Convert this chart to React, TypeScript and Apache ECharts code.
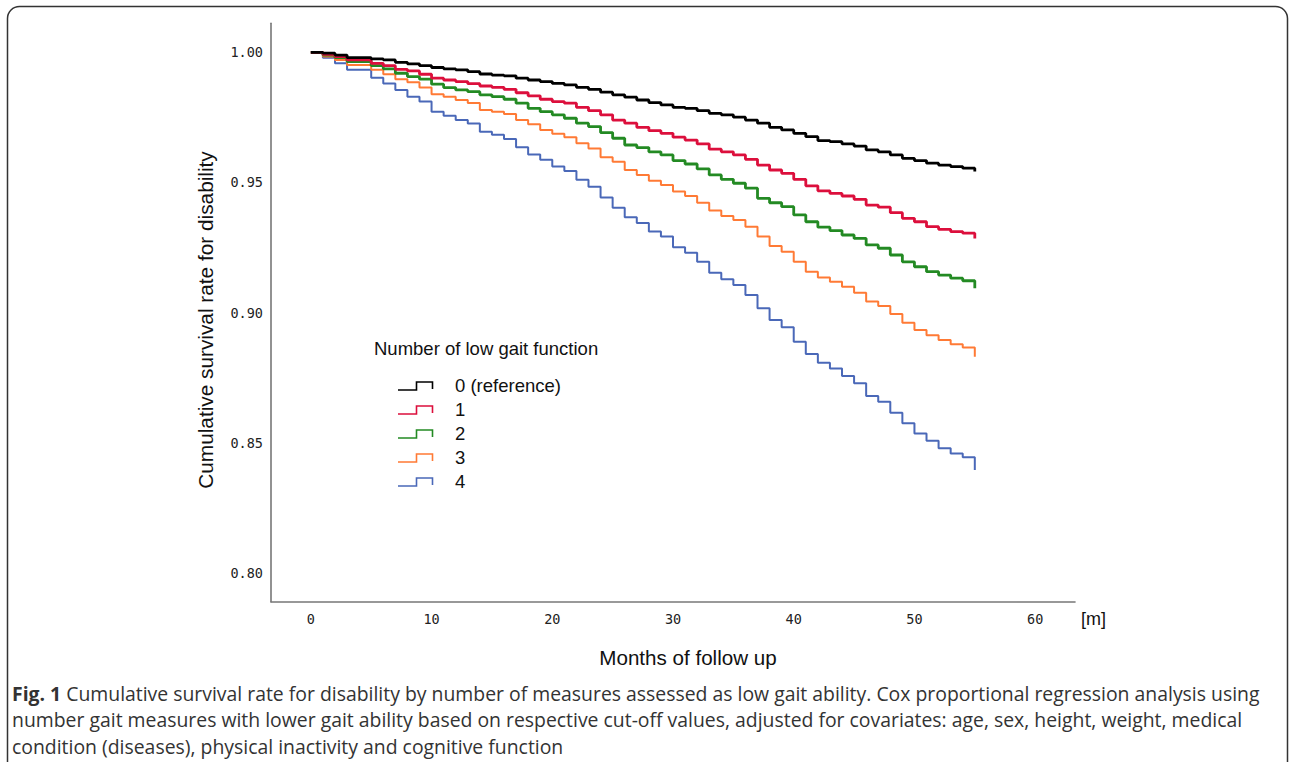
import React, { useEffect, useRef } from "react";
import * as echarts from "echarts";

const months = [0,1,2,3,4,5,6,7,8,9,10,11,12,13,14,15,16,17,18,19,20,21,22,23,24,25,26,27,28,29,30,31,32,33,34,35,36,37,38,39,40,41,42,43,44,45,46,47,48,49,50,51,52,53,54,55];

const group0 = [1.0000,0.9997,0.9990,0.9980,0.9980,0.9975,0.9971,0.9962,0.9956,0.9949,0.9942,0.9937,0.9933,0.9926,0.9917,0.9913,0.9910,0.9901,0.9894,0.9888,0.9881,0.9875,0.9866,0.9858,0.9847,0.9837,0.9828,0.9817,0.9807,0.9798,0.9789,0.9785,0.9776,0.9766,0.9760,0.9751,0.9740,0.9728,0.9712,0.9702,0.9689,0.9676,0.9661,0.9657,0.9648,0.9640,0.9625,0.9618,0.9606,0.9593,0.9584,0.9574,0.9567,0.9561,0.9555,0.9542];
const group1 = [1.0000,0.9993,0.9984,0.9971,0.9971,0.9958,0.9949,0.9935,0.9929,0.9916,0.9901,0.9894,0.9888,0.9880,0.9871,0.9866,0.9858,0.9845,0.9833,0.9820,0.9811,0.9805,0.9789,0.9776,0.9760,0.9740,0.9728,0.9712,0.9699,0.9689,0.9674,0.9663,0.9648,0.9628,0.9618,0.9606,0.9589,0.9567,0.9548,0.9535,0.9512,0.9487,0.9468,0.9458,0.9448,0.9435,0.9413,0.9405,0.9384,0.9362,0.9349,0.9330,0.9320,0.9311,0.9305,0.9285];
const group2 = [1.0000,0.9990,0.9980,0.9965,0.9965,0.9949,0.9937,0.9920,0.9907,0.9897,0.9878,0.9865,0.9856,0.9849,0.9837,0.9830,0.9820,0.9805,0.9785,0.9772,0.9760,0.9747,0.9728,0.9715,0.9692,0.9670,0.9644,0.9634,0.9618,0.9606,0.9584,0.9571,0.9552,0.9529,0.9512,0.9497,0.9478,0.9439,0.9422,0.9407,0.9375,0.9349,0.9328,0.9315,0.9298,0.9285,0.9260,0.9247,0.9221,0.9195,0.9176,0.9157,0.9144,0.9132,0.9122,0.9093];
const group3 = [1.0000,0.9984,0.9971,0.9952,0.9952,0.9933,0.9916,0.9897,0.9885,0.9865,0.9839,0.9830,0.9817,0.9806,0.9779,0.9772,0.9763,0.9740,0.9724,0.9702,0.9687,0.9674,0.9651,0.9631,0.9597,0.9580,0.9548,0.9529,0.9507,0.9490,0.9465,0.9448,0.9422,0.9392,0.9371,0.9356,0.9330,0.9292,0.9256,0.9234,0.9195,0.9157,0.9135,0.9118,0.9099,0.9076,0.9042,0.9025,0.8994,0.8961,0.8933,0.8913,0.8894,0.8878,0.8865,0.8830];
const group4 = [1.0000,0.9980,0.9958,0.9933,0.9933,0.9903,0.9881,0.9856,0.9830,0.9811,0.9772,0.9757,0.9740,0.9727,0.9695,0.9683,0.9667,0.9635,0.9608,0.9587,0.9561,0.9544,0.9510,0.9484,0.9442,0.9403,0.9366,0.9344,0.9311,0.9292,0.9251,0.9230,0.9195,0.9153,0.9128,0.9106,0.9067,0.9016,0.8971,0.8943,0.8888,0.8840,0.8807,0.8785,0.8756,0.8728,0.8679,0.8657,0.8615,0.8574,0.8535,0.8507,0.8478,0.8458,0.8443,0.8394];

const seriesNames = ["0 (reference)", "1", "2", "3", "4"];
const seriesValues = [group0, group1, group2, group3, group4];
const seriesColors = ["#000000", "#dc0f3c", "#238a23", "#ff7a35", "#4a68b8"];
const seriesWidths = [2.8, 2.8, 2.8, 2, 2];

const xTicks = [0, 10, 20, 30, 40, 50, 60];
const yTicks = [0.8, 0.85, 0.9, 0.95, 1.0];

const legendTitle = "Number of low gait function";
const yTitle = "Cumulative survival rate for disability";
const xTitle = "Months of follow up";
const xUnit = "[m]";
const captionBold = "Fig. 1";
const captionLines = [
  " Cumulative survival rate for disability by number of measures assessed as low gait ability. Cox proportional regression analysis using",
  "number gait measures with lower gait ability based on respective cut-off values, adjusted for covariates: age, sex, height, weight, medical",
  "condition (diseases), physical inactivity and cognitive function",
];

export default function App() {
  const ref = useRef<HTMLDivElement>(null);
  useEffect(() => {
    if (!ref.current) return;
    const chart = echarts.init(ref.current, null, { renderer: "svg" });
    const tickFont = "DejaVu Sans Mono";
    const capFont = "19.4px 'Open Sans'";
    const legendRows = seriesNames.map((name, i) => {
      const y = 385 + i * 24;
      return [
        {
          type: "polyline",
          shape: { points: [[398, y + 5], [416.5, y + 5], [416.5, y - 3], [432.5, y - 3], [432.5, y + 4]] },
          style: { stroke: seriesColors[i], lineWidth: 1.6, fill: "none" },
        },
        {
          type: "text",
          x: 455,
          y,
          style: { text: name, font: "18.5px 'Liberation Sans'", fill: "#111", align: "left", verticalAlign: "middle" },
        },
      ];
    }).flat();

    const option: any = {
      animation: false,
      backgroundColor: "#ffffff",
      grid: { left: 271, right: 215, top: 23.3, bottom: 160.3, containLabel: false },
      xAxis: {
        type: "value",
        min: -3.3,
        max: 63.3,
        axisLine: { show: true, onZero: false, lineStyle: { color: "#777", width: 1.6 } },
        axisTick: { show: false },
        splitLine: { show: false },
        axisLabel: {
          customValues: xTicks,
          margin: 10,
          color: "#222",
          fontFamily: tickFont,
          fontSize: 13.5,
          formatter: (v: number) => String(v),
        },
      },
      yAxis: {
        type: "value",
        min: 0.7888,
        max: 1.0112,
        axisLine: { show: true, onZero: false, lineStyle: { color: "#777", width: 1.6 } },
        axisTick: { show: false },
        splitLine: { show: false },
        axisLabel: {
          customValues: yTicks,
          margin: 8,
          color: "#222",
          fontFamily: tickFont,
          fontSize: 13.5,
          padding: [5, 0, 0, 0],
          formatter: (v: number) => v.toFixed(2),
        },
      },
      series: seriesValues.map((vals, i) => ({
        type: "line",
        name: seriesNames[i],
        step: "end",
        showSymbol: false,
        symbol: "none",
        z: 10 - i,
        lineStyle: { color: seriesColors[i], width: seriesWidths[i] },
        data: months.map((m, j) => [m, vals[j]]),
      })),
      graphic: [
        {
          type: "rect",
          shape: { x: 7.5, y: 6.5, width: 1280, height: 820, r: 12 },
          style: { stroke: "#333", lineWidth: 1.5, fill: "none" },
          silent: true,
        },
        {
          type: "text",
          x: 205,
          y: 320,
          rotation: Math.PI / 2,
          style: { text: yTitle, font: "20.8px 'Liberation Sans'", fill: "#111", align: "center", verticalAlign: "middle" },
        },
        {
          type: "text",
          x: 688,
          y: 657,
          style: { text: xTitle, font: "20.6px 'Liberation Sans'", fill: "#111", align: "center", verticalAlign: "middle" },
        },
        {
          type: "text",
          x: 1081,
          y: 619,
          style: { text: xUnit, font: "18px 'Liberation Sans'", fill: "#111", align: "left", verticalAlign: "middle" },
        },
        {
          type: "text",
          x: 374,
          y: 348,
          style: { text: legendTitle, font: "18.5px 'Liberation Sans'", fill: "#111", align: "left", verticalAlign: "middle" },
        },
        ...legendRows,
        {
          type: "text",
          x: 12,
          y: 693,
          style: {
            text: "{b|" + captionBold + "}{r|" + captionLines[0] + "}",
            verticalAlign: "middle",
            align: "left",
            rich: {
              b: { font: "bold " + capFont, fill: "#333" },
              r: { font: capFont, fill: "#333" },
            },
          },
        },
        {
          type: "text",
          x: 12,
          y: 719,
          style: { text: captionLines[1], font: capFont, fill: "#333", align: "left", verticalAlign: "middle" },
        },
        {
          type: "text",
          x: 12,
          y: 746,
          style: { text: captionLines[2], font: capFont, fill: "#333", align: "left", verticalAlign: "middle" },
        },
      ],
    };
    chart.setOption(option);
    return () => chart.dispose();
  }, []);
  return (
    <div
      ref={ref}
      style={{ position: "absolute", left: 0, top: 0, width: 1290, height: 762, background: "#fff" }}
    />
  );
}
